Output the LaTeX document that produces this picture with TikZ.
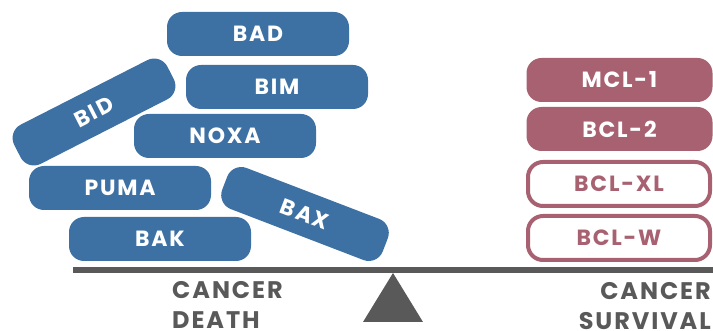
\documentclass[tikz,border=0pt]{standalone}
\usepackage{fontspec}
\usepackage{xcolor}
\newfontfamily\labelfont[LetterSpace=8]{Poppins}
\usetikzlibrary{positioning}
\definecolor{deathblue}{RGB}{61,112,163}
\definecolor{survivalred}{RGB}{168,97,112}
\definecolor{beamgray}{RGB}{89,89,89}

\begin{document}
\begin{tikzpicture}[x=1pt, y=-1pt,
    pill/.style={rectangle, rounded corners=15pt, minimum width=182pt, minimum height=44pt,
        inner sep=0pt, font=\labelfont\bfseries\fontsize{22}{22}\selectfont},
    deathpill/.style={pill, fill=deathblue, text=white},
    survivalpill/.style={pill, fill=survivalred, text=white, minimum width=186pt},
    openpill/.style={pill, draw=survivalred, line width=4pt, fill=white, text=survivalred},
    sidelabel/.style={font=\labelfont\bfseries\fontsize{24}{30}\selectfont, text=beamgray, inner sep=0pt}]
    \useasboundingbox (0,0) rectangle (713,331);

    % --- Left pan: pro-apoptotic proteins ---
    \node[deathpill] (bad)  at (258,34)  {BAD};
    \node[deathpill] (bim)  at (277,87)  {BIM};
    \node[deathpill] (noxa) at (225,136) {NOXA};
    \node[deathpill] (puma) at (120,188) {PUMA};
    \node[deathpill] (bak)  at (160,239) {BAK};
    % tilted ones
    \node[deathpill, minimum width=172pt, rotate=27]  (bid) at (94,112)  {BID};
    \node[deathpill, minimum width=172pt, rotate=-21] (bax) at (305,214) {BAX};

    % --- Right pan: anti-apoptotic proteins ---
    \node[survivalpill] (mcl)  at (619.5,80) {MCL-1};
    \node[survivalpill] (bcl2) at (619.5,129) {BCL-2};
    \node[openpill]     (bclxl) at (619,184) {BCL-XL};
    \node[openpill]     (bclw)  at (619,238) {BCL-W};

    % --- Balance beam and pivot ---
    \coordinate (beamL) at (73,270);
    \coordinate (beamR) at (713,270);
    \coordinate (pivot) at (393,273);
    \draw[beamgray, line width=5.5pt] (beamL) -- (beamR);
    \fill[beamgray] (pivot) -- ++(30,49) -- ++(-60,0) -- cycle;

    % --- Labels under the beam ---
    \node[sidelabel, anchor=north west, align=left]  (death)    at (172,281) {CANCER\\DEATH};
    \node[sidelabel, anchor=north east, align=right] (survival) at (711,282) {CANCER\\SURVIVAL};
\end{tikzpicture}
\end{document}
